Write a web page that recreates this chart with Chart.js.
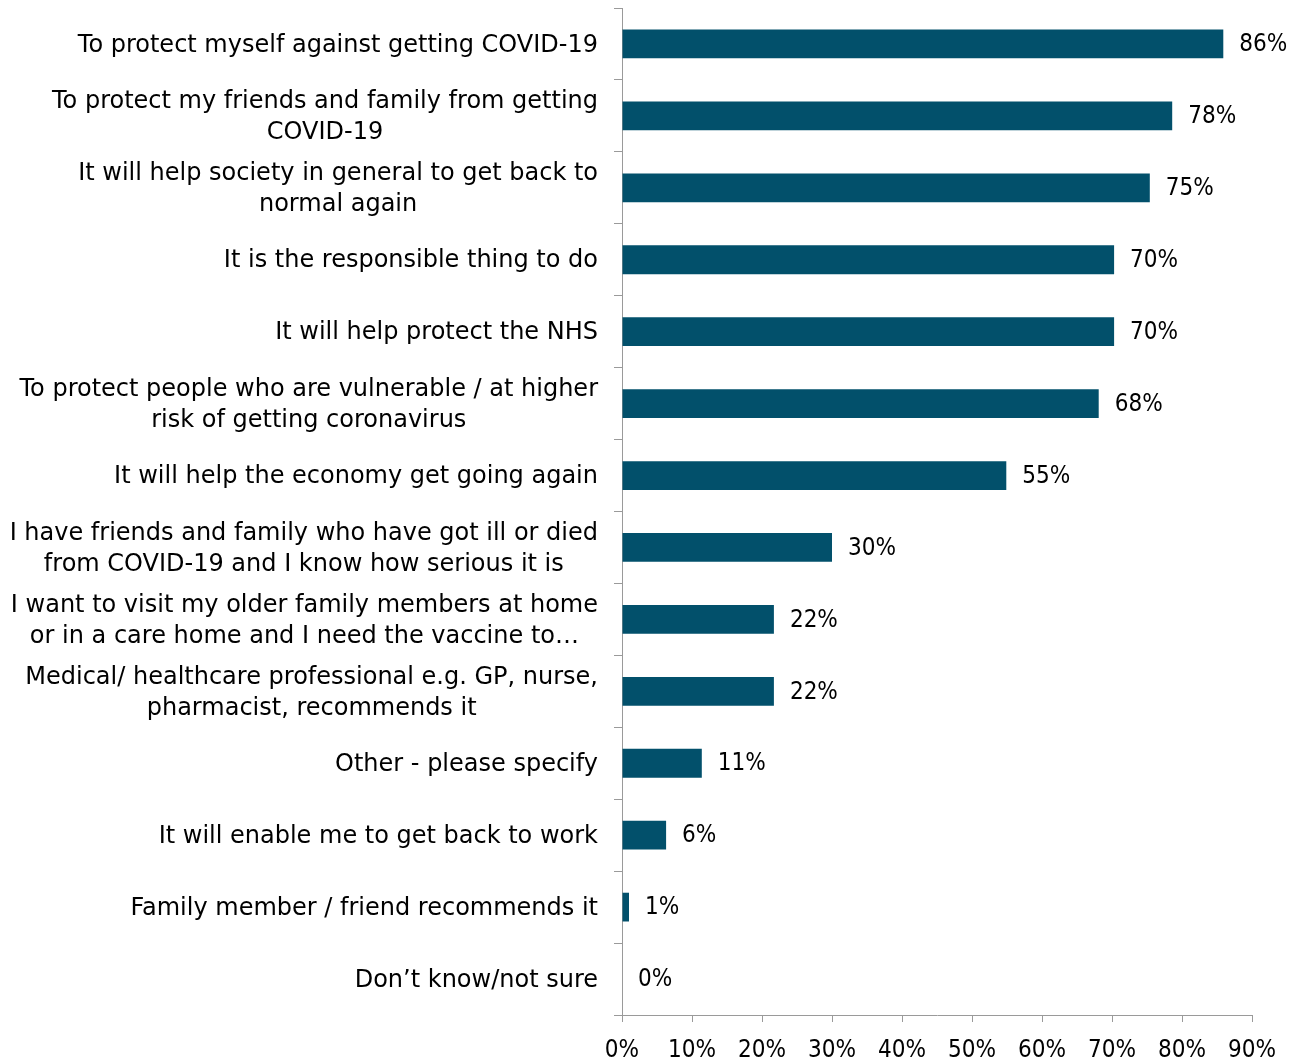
<!DOCTYPE html>
<html>
<head>
<meta charset="utf-8">
<script src="https://cdn.jsdelivr.net/npm/chart.js@4/dist/chart.umd.min.js"></script>
<style>
  html, body { margin: 0; padding: 0; background: #fff; }
  #wrap { width: 1293px; height: 1061px; position: relative; }
</style>
</head>
<body>
<div id="wrap"><canvas id="chart"></canvas></div>
<script>
/* ── DATA ───────────────────────────────────────────────────────────── */
const categories = [
  ['To protect myself against getting COVID-19'],
  ['To protect my friends and family from getting', 'COVID-19'],
  ['It will help society in general to get back to', 'normal again'],
  ['It is the responsible thing to do'],
  ['It will help protect the NHS'],
  ['To protect people who are vulnerable / at higher', 'risk of getting coronavirus'],
  ['It will help the economy get going again'],
  ['I have friends and family who have got ill or died', 'from COVID-19 and I know how serious it is'],
  ['I want to visit my older family members at home', 'or in a care home and I need the vaccine to…'],
  ['Medical/ healthcare professional e.g. GP, nurse,', 'pharmacist, recommends it'],
  ['Other - please specify'],
  ['It will enable me to get back to work'],
  ['Family member / friend recommends it'],
  ['Don’t know/not sure'],
];
// bar lengths (unrounded), and the printed labels
const values     = [85.9, 78.6, 75.4, 70.3, 70.3, 68.1, 54.9, 30.0, 21.7, 21.7, 11.4, 6.3, 1.0, 0];
const valueTexts = ['86%', '78%', '75%', '70%', '70%', '68%', '55%', '30%', '22%', '22%', '11%', '6%', '1%', '0%'];
const xTicksMax  = 90;
const xStep      = 10;

/* ── STYLE ──────────────────────────────────────────────────────────── */
const FONT     = '"DejaVu Sans", sans-serif';
const NUMFONT  = '"DejaVu Sans Condensed", "DejaVu Sans", sans-serif';
const FSIZE    = 24;
const BAR_COL  = '#02506b';
const AXIS_COL = '#9a9a9a';

// category labels: block right-aligned to the axis, lines centred inside it
const catLabels = {
  id: 'catLabels',
  afterDraw(chart) {
    const { ctx } = chart;
    const y = chart.scales.y;
    const right = chart.chartArea.left - 24;
    const lh = 31;
    ctx.save();
    ctx.font = `${FSIZE}px ${FONT}`;
    ctx.fillStyle = '#000';
    ctx.textAlign = 'center';
    ctx.textBaseline = 'middle';
    categories.forEach((lines, i) => {
      const w  = Math.max(...lines.map(l => ctx.measureText(l).width));
      const cx = right - w / 2;
      const cy = y.getPixelForValue(i) + 1.5;
      const top = cy - (lines.length - 1) * lh / 2;
      lines.forEach((l, k) => ctx.fillText(l, cx, top + k * lh));
    });
    ctx.restore();
  },
};

// value labels at the end of each bar
const valueLabels = {
  id: 'valueLabels',
  afterDatasetsDraw(chart) {
    const { ctx } = chart;
    const meta = chart.getDatasetMeta(0);
    ctx.save();
    ctx.font = `${FSIZE}px ${NUMFONT}`;
    ctx.fillStyle = '#000';
    ctx.textAlign = 'left';
    ctx.textBaseline = 'middle';
    meta.data.forEach((bar, i) => ctx.fillText(valueTexts[i], bar.x + 16, bar.y + 1));
    ctx.restore();
  },
};

new Chart(document.getElementById('chart'), {
  type: 'bar',
  data: {
    labels: categories.map(c => c.join(' ')),
    datasets: [{
      data: values,
      backgroundColor: BAR_COL,
      categoryPercentage: 1,
      barPercentage: 0.4,
    }],
  },
  plugins: [catLabels, valueLabels],
  options: {
    indexAxis: 'y',
    responsive: true, maintainAspectRatio: false,
    animation: false,
    layout: { padding: { top: 8, right: 41, bottom: 0, left: 0 } },
    plugins: { legend: { display: false }, tooltip: { enabled: false } },
    scales: {
      x: {
        min: 0, max: xTicksMax,
        ticks: {
          stepSize: xStep,
          callback: v => v + '%',
          color: '#000',
          font: { family: NUMFONT, size: FSIZE },
          padding: 14,
          maxRotation: 0,
        },
        grid: { drawOnChartArea: false, drawTicks: true, tickLength: 7, color: AXIS_COL },
        border: { color: AXIS_COL, width: 1 },
        afterFit: s => { s.height = 46; },
      },
      y: {
        ticks: { display: false },
        grid: { offset: true, drawOnChartArea: false, drawTicks: true, tickLength: 8, color: AXIS_COL },
        border: { color: AXIS_COL, width: 1 },
        afterFit: s => { s.width = 622; },
      },
    },
  },
});
</script>
</body>
</html>
